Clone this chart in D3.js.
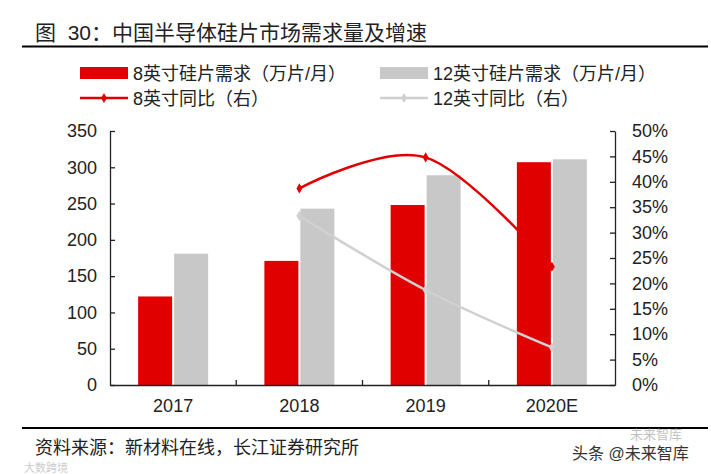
<!DOCTYPE html>
<html>
<head>
<meta charset="utf-8">
<script src="https://cdn.jsdelivr.net/npm/d3@7"></script>
<style>
  body { margin: 0; background: #fff; }
  text { font-family: "Liberation Sans", Arial, "Noto Sans CJK SC", sans-serif; }
</style>
</head>
<body>
<div id="chart"></div>
<script>
var years = ["2017", "2018", "2019", "2020E"]
var wafer8 = [122, 171, 248, 307]
var wafer12 = [181, 243, 289, 311]
var yoy8 = [null, 0.387, 0.448, 0.233]
var yoy12 = [null, 0.333, 0.187, 0.074]
var leftTicks = [0, 50, 100, 150, 200, 250, 300, 350]
var rightTicks = [0, 0.05, 0.1, 0.15, 0.2, 0.25, 0.3, 0.35, 0.4, 0.45, 0.5]

var red = "#e00000", grey = "#c8c8c8", greyLine = "#d0d0d0"
var W = 711, H = 474
var plot = {left: 110, right: 615, top: 131, bottom: 385}

var svg = d3.select("#chart").append("svg")
    .attr("width", W).attr("height", H)

/* title */
svg.append("text").attr("x", 35).attr("y", 40)
    .attr("font-size", "21px").attr("fill", "#222")
    .attr("xml:space", "preserve")
    .text("图  30：中国半导体硅片市场需求量及增速")
svg.append("line").attr("x1", 22).attr("x2", 708).attr("y1", 46.5).attr("y2", 46.5)
    .attr("stroke", "#000").attr("stroke-width", 2)

/* scales */
var x = d3.scaleBand().domain(years).range([plot.left, plot.right])
var yL = d3.scaleLinear().domain([0, 350]).range([plot.bottom, plot.top])
var yR = d3.scaleLinear().domain([0, 0.5]).range([plot.bottom, plot.top])
var cx = function(d) { return x(d) + x.bandwidth() / 2 }
var bw = 34

/* bars */
svg.append("g").selectAll("rect.r8").data(years).enter().append("rect")
    .attr("x", (d) => cx(d) - bw - 1)
    .attr("y", (d, i) => yL(wafer8[i]))
    .attr("width", bw)
    .attr("height", (d, i) => yL(0) - yL(wafer8[i]))
    .attr("fill", red)
svg.append("g").selectAll("rect.r12").data(years).enter().append("rect")
    .attr("x", (d) => cx(d) + 1)
    .attr("y", (d, i) => yL(wafer12[i]))
    .attr("width", bw)
    .attr("height", (d, i) => yL(0) - yL(wafer12[i]))
    .attr("fill", grey)

/* lines */
var line = d3.line().defined((d) => d.v !== null)
    .x((d) => cx(d.year)).y((d) => yR(d.v))
    .curve(d3.curveCardinal.tension(0))
var series = [
    {color: greyLine, values: years.map((y, i) => ({year: y, v: yoy12[i]}))},
    {color: red, values: years.map((y, i) => ({year: y, v: yoy8[i]}))}
]
var diamond = d3.symbol().type(d3.symbolDiamond).size(30)
series.forEach(function(s) {
    var pts = s.values.filter((d) => d.v !== null)
    svg.append("path").attr("d", line(pts))
        .attr("fill", "none").attr("stroke", s.color).attr("stroke-width", 2.5)
    svg.append("g").selectAll("path").data(pts).enter().append("path")
        .attr("d", diamond)
        .attr("transform", (d) => "translate(" + cx(d.year) + "," + yR(d.v) + ")")
        .attr("fill", s.color)
})

/* axes */
var axisColor = "#222"
var gx = svg.append("g").attr("transform", "translate(0," + plot.bottom + ")")
    .call(d3.axisBottom(x).tickSize(0).tickPadding(14))
gx.select(".domain").attr("stroke", axisColor).attr("stroke-width", 1.3)
gx.selectAll("text").attr("font-size", "18px").attr("fill", "#222")
    .attr("font-family", "Liberation Sans, Arial, sans-serif")
gx.selectAll(".bnd").data(years.slice(1)).enter().append("line")
    .attr("x1", (d) => x(d)).attr("x2", (d) => x(d))
    .attr("y1", 0).attr("y2", -5).attr("stroke", axisColor).attr("stroke-width", 1.3)

var gl = svg.append("g").attr("transform", "translate(" + plot.left + ",0)")
    .call(d3.axisLeft(yL).tickValues(leftTicks).tickSize(-5).tickPadding(13).tickSizeOuter(0))
var gr = svg.append("g").attr("transform", "translate(" + plot.right + ",0)")
    .call(d3.axisRight(yR).tickValues(rightTicks).tickSize(-5).tickPadding(17).tickSizeOuter(0)
        .tickFormat(d3.format(".0%")))
;[gl, gr].forEach(function(g) {
    g.select(".domain").attr("stroke", axisColor).attr("stroke-width", 1.3)
    g.selectAll(".tick line").attr("stroke", axisColor).attr("stroke-width", 1.3)
    g.selectAll("text").attr("font-size", "18px").attr("fill", "#222")
        .attr("font-family", "Liberation Sans, Arial, sans-serif")
})

/* legend */
var legend = [
    {label: "8英寸硅片需求（万片/月）", color: red, type: "bar", x: 80, y: 73},
    {label: "12英寸硅片需求（万片/月）", color: grey, type: "bar", x: 380, y: 73},
    {label: "8英寸同比（右）", color: red, type: "line", x: 80, y: 98},
    {label: "12英寸同比（右）", color: greyLine, type: "line", x: 380, y: 98}
]
legend.forEach(function(l) {
    var g = svg.append("g").attr("transform", "translate(" + l.x + "," + l.y + ")")
    if (l.type === "bar") {
        g.append("rect").attr("x", 0).attr("y", -6).attr("width", 48).attr("height", 12).attr("fill", l.color)
    } else {
        g.append("line").attr("x1", 0).attr("x2", 48).attr("y1", 0).attr("y2", 0)
            .attr("stroke", l.color).attr("stroke-width", 2.5)
        g.append("path").attr("d", diamond).attr("transform", "translate(24,0)").attr("fill", l.color)
    }
    g.append("text").attr("x", 53).attr("y", 6.5).attr("font-size", "18px").attr("fill", "#222")
        .text(l.label)
})

/* footer */
svg.append("line").attr("x1", 22).attr("x2", 708).attr("y1", 428).attr("y2", 428)
    .attr("stroke", "#000").attr("stroke-width", 1.8)
svg.append("text").attr("x", 35).attr("y", 454).attr("font-size", "18px").attr("fill", "#222")
    .text("资料来源：新材料在线，长江证券研究所")
svg.append("text").attr("x", 572).attr("y", 459).attr("font-size", "16px").attr("fill", "#333")
    .text("头条 @未来智库")
svg.append("text").attr("x", 630).attr("y", 439).attr("font-size", "13px").attr("fill", "#999")
    .attr("opacity", 0.6).text("未来智库")
svg.append("text").attr("x", 24).attr("y", 472).attr("font-size", "11px").attr("fill", "#ccc")
    .text("大数跨境")
</script>
</body>
</html>
